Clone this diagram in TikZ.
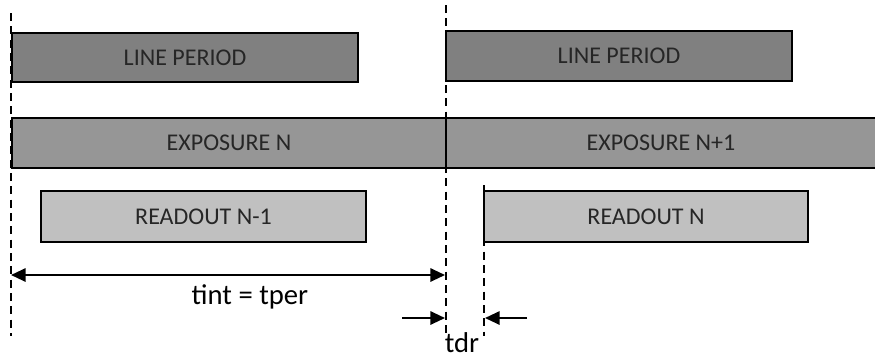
\documentclass[tikz,border=0pt]{standalone}
\usepackage{fontspec}
\setmainfont{Carlito}
\usetikzlibrary{arrows.meta}
\definecolor{lpgray}{HTML}{808080}
\definecolor{exgray}{HTML}{969696}
\definecolor{rogray}{HTML}{C0C0C0}
\tikzset{
  bar/.style={draw=black, line width=1.2pt, inner sep=0pt, outer sep=0pt, font=\fontsize{18}{20}\selectfont, text=black!85},
  lpbar/.style={bar, fill=lpgray},
  exbar/.style={bar, fill=exgray},
  robar/.style={bar, fill=rogray},
  guide/.style={draw=black, line width=1.8pt, dash pattern=on 6pt off 4pt},
  dim/.style={draw=black, line width=1.5pt, {Triangle[length=11pt,width=10pt]}-{Triangle[length=11pt,width=10pt]}},
  dimr/.style={draw=black, line width=1.5pt, -{Triangle[length=11pt,width=10pt]}},
  lbl/.style={font=\fontsize{21.5}{24}\selectfont, inner sep=0pt}
}
\begin{document}
\begin{tikzpicture}[x=0.75pt,y=-0.75pt]
\useasboundingbox (0,0) rectangle (875,358);
% bars
\node[lpbar, minimum width=259.5pt, minimum height=36.75pt] (lp1) at (185,57.5) {LINE PERIOD};
\node[lpbar, minimum width=259.5pt, minimum height=37.5pt] (lp2) at (619,56) {LINE PERIOD};
\node[exbar, minimum width=325.5pt, minimum height=37.5pt] (ex1) at (229,143) {EXPOSURE N};
\node[exbar, minimum width=322.5pt, minimum height=37.5pt] (ex2) at (661,143) {EXPOSURE N+1};
\node[robar, minimum width=243.75pt, minimum height=38.25pt] (ro1) at (203.5,216.5) {READOUT N-1};
\node[robar, minimum width=243pt, minimum height=38.25pt] (ro2) at (646,216.5) {READOUT N};
% guide lines
\coordinate (g1t) at (11,13);
\coordinate (g1b) at (11,336);
\coordinate (g2t) at (446,5);
\coordinate (g2b) at (446,337);
\coordinate (g3t) at (484,185);
\coordinate (g3b) at (484,336);
\draw[guide] (g1t) -- (g1b);
\draw[guide] (g2t) -- (g2b);
\draw[guide] (g3t) -- (g3b);
% tint arrow
\coordinate (ta) at (11,275);
\coordinate (tb) at (445,275);
\draw[dim] (ta) -- (tb);
\node[lbl] (tint) at (250,297) {tint = tper};
% tdr arrows
\coordinate (da) at (402,318);
\coordinate (db) at (445,318);
\coordinate (dc) at (527,318);
\coordinate (dd) at (485,318);
\draw[dimr] (da) -- (db);
\draw[dimr] (dc) -- (dd);
\node[lbl, anchor=north] (tdr) at (462,332) {tdr};
\end{tikzpicture}
\end{document}
